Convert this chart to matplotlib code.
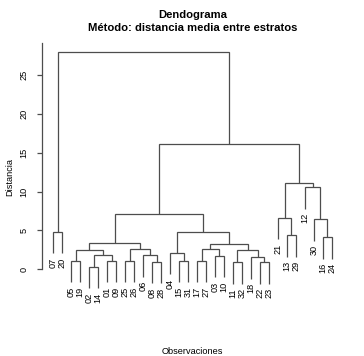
import numpy as np
import matplotlib
matplotlib.use('Agg')
import matplotlib.pyplot as plt

plt.rcParams['font.family'] = ['Liberation Sans', 'DejaVu Sans']

# leaves in the order they appear on the x axis
labels = ['07', '20', '05', '19', '02', '14', '01', '09', '25', '26', '06',
          '08', '28', '04', '15', '31', '17', '27', '03', '10', '11', '32',
          '18', '22', '23', '21', '13', '29', '12', '30', '16', '24']

# merges: strings are leaves, ints point to an earlier merge
left_child = ['02', '22', '11', '08', '05', '01', '25', '15', '17', '18',
              '03', 0, '06', '04', 4, 2, 6, 8, 17, 14,
              '16', '13', 13, '07', '30', '21', 19, '12', 25, 26, 23]
right_child = ['14', '23', '32', '28', '19', '09', '26', '31', '27', 1,
               '10', 5, 3, 7, 11, 9, 12, 10, 15, 16,
               '24', '29', 18, '20', 20, 21, 22, 24, 27, 28, 29]
heights = [0.34, 0.90, 0.90, 0.98, 1.11, 1.11, 1.13, 1.11, 1.11, 1.54,
           1.75, 1.84, 1.84, 2.14, 2.48, 2.48, 2.57, 2.61, 3.25, 3.42,
           4.11, 4.41, 4.75, 4.83, 6.42, 6.63, 7.07, 10.6, 11.15, 16.07, 27.9]

n = len(labels)
hang = 0.1 * max(heights)
leaf_pos = {lab: i + 1 for i, lab in enumerate(labels)}

fig = plt.figure(figsize=(3.64, 3.56), dpi=100)
ax = fig.add_axes([0.1159, 0.1635, 0.826, 0.716])

col = '#4d4d4d'
node_x = []
leaf_end = {}
for a, b, h in zip(left_child, right_child, heights):
    pts = []
    for c in (a, b):
        if isinstance(c, str):
            x = leaf_pos[c]
            y = h - hang
            leaf_end[c] = y
        else:
            x = node_x[c]
            y = heights[c]
        pts.append((x, y))
    (x1, y1), (x2, y2) = pts
    ax.plot([x1, x1, x2, x2], [y1, h, h, y2], color=col, lw=0.9,
            solid_capstyle='butt', solid_joinstyle='miter')
    node_x.append((x1 + x2) / 2)

for lab in labels:
    ax.annotate(lab, (leaf_pos[lab], leaf_end[lab]), xytext=(0, -3),
                textcoords='offset points', rotation=90, ha='center',
                va='top', fontsize=6.6, annotation_clip=False)

lo = min(leaf_end.values())
hi = max(heights)
pad = 0.04 * (hi - lo)
ax.set_ylim(lo - pad, hi + pad)
ax.set_xlim(1 - 0.04 * (n - 1), n + 0.04 * (n - 1))

for s in ['top', 'right', 'bottom']:
    ax.spines[s].set_visible(False)
ax.spines['left'].set_bounds(0, hi + pad)
ax.spines['left'].set_color(col)
ax.spines['left'].set_linewidth(0.9)
ax.set_xticks([])
ax.set_yticks([0, 5, 10, 15, 20, 25])
ax.tick_params(axis='y', length=3.6, width=0.9, color=col, pad=6.3,
               labelsize=6.6)
for t in ax.get_yticklabels():
    t.set_rotation(90)
    t.set_va('center')

fig.text(0.5289, 1 - 15 / 356, 'Dendograma', ha='center', va='center',
         fontsize=8.1, fontweight='bold')
fig.text(0.5289, 1 - 28 / 356, 'Método: distancia media entre estratos',
         ha='center', va='center', fontsize=8.1, fontweight='bold')
fig.text(10 / 364, 1 - 177 / 356, 'Distancia', rotation=90, ha='center',
         va='center', fontsize=6.6)
fig.text(0.5289, 1 - 351 / 356, 'Observaciones', ha='center', va='center',
         fontsize=6.6)

fig.savefig('out.png', dpi=100)
